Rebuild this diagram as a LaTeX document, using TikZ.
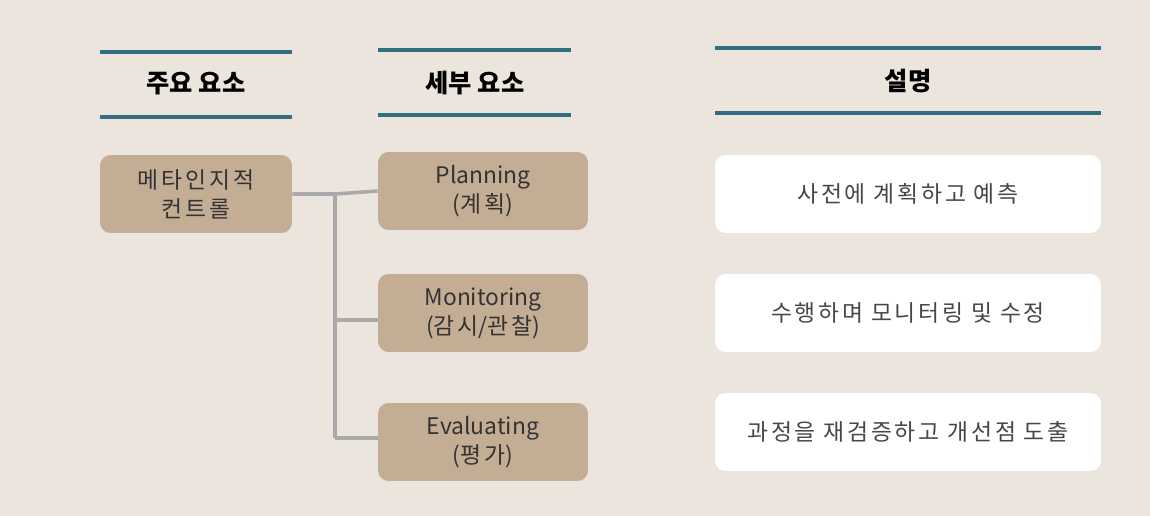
\documentclass[tikz,border=0pt]{standalone}
\usepackage{fontspec}
\setmainfont{Noto Sans CJK KR}
\newfontfamily\krwide[LetterSpace=12]{Noto Sans CJK KR}
\usetikzlibrary{positioning}
\definecolor{PageBg}{HTML}{EBE5DE}
\definecolor{HeadTeal}{HTML}{2F6F80}
\definecolor{BoxTan}{HTML}{C4AD95}
\definecolor{LinkGray}{HTML}{A9A9A9}
\definecolor{InkDark}{HTML}{333333}

\begin{document}
\begin{tikzpicture}[
      x=0.02cm, y=-0.02cm,
      rule/.style={draw=HeadTeal, line width=2pt},
      head/.style={font=\fontsize{14.4}{16}\selectfont\bfseries, text=black},
      tanbox/.style={
        rounded corners=6pt,
        minimum height=1.56cm,
        fill=BoxTan,
        text=InkDark,
        align=center,
        font=\fontsize{13}{16.6}\selectfont
      },
      mainbox/.style={tanbox, minimum width=3.84cm},
      subbox/.style={tanbox, minimum width=4.2cm},
      descbox/.style={
        rounded corners=6pt,
        minimum width=7.72cm,
        minimum height=1.56cm,
        fill=white,
        text=InkDark!90,
        align=center,
        font=\krwide\fontsize{13}{15.5}\selectfont
      },
      link/.style={draw=LinkGray, line width=2pt}
    ]
      \fill[PageBg] (0,0) rectangle (1150,516);
      \useasboundingbox (0,0) rectangle (1150,516);

      % column headers
      \draw[rule] (100,52) -- (292,52);
      \draw[rule] (100,117) -- (292,117);
      \node[head] (hmain) at (196,84) {주요 요소};
      \draw[rule] (378,50) -- (571,50);
      \draw[rule] (378,115) -- (571,115);
      \node[head] (hsub) at (475,83) {세부 요소};
      \draw[rule] (715,48) -- (1101,48);
      \draw[rule] (715,113) -- (1101,113);
      \node[head] (hdesc) at (908,81) {설명};

      % boxes
      \node[mainbox] (meta) at (196,194) {\krwide 메타인지적\\\krwide 컨트롤};
      \node[subbox] (plan) at (483,191) {Planning\\({\krwide 계획})};
      \node[subbox] (mon) at (483,313) {Monitoring\\({\krwide 감시}/{\krwide 관찰})};
      \node[subbox] (eval) at (483,442) {Evaluating\\({\krwide 평가})};
      \node[descbox] (dplan) at (908,194) {사전에 계획하고 예측};
      \node[descbox] (dmon) at (908,313) {수행하며 모니터링 및 수정};
      \node[descbox] (deval) at (908,432) {과정을 재검증하고 개선점 도출};

      % tree links
      \coordinate (fork) at (335,194);
      \coordinate (forkmon) at (335,320);
      \coordinate (forkeval) at (335,438);
      \draw[link] (meta.east) -- (fork) -- (plan.west);
      \draw[link] (fork) -- (forkeval);
      \draw[link] (forkmon) -- (forkmon -| mon.west);
      \draw[link] (forkeval) -- (forkeval -| eval.west);
    \end{tikzpicture}
\end{document}
